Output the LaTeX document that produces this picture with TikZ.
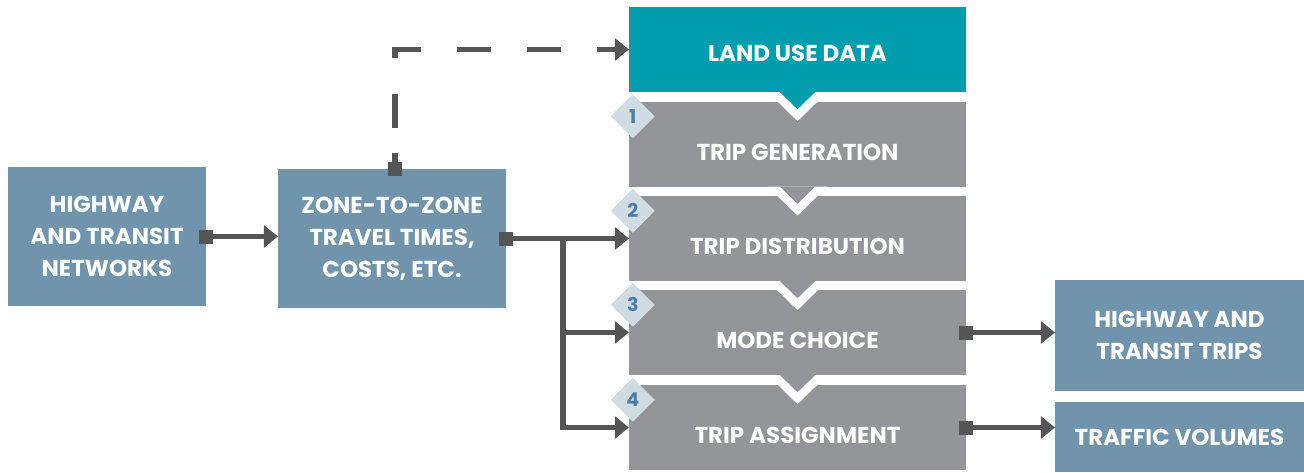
\documentclass[tikz,border=0pt]{standalone}
\usepackage{fontspec}
\setmainfont{Poppins}
\usetikzlibrary{arrows.meta,shapes.geometric}

\definecolor{landteal}{HTML}{009DAE}
\definecolor{stepgray}{HTML}{939598}
\definecolor{steel}{HTML}{7094AC}
\definecolor{flowgray}{HTML}{555555}
\definecolor{numbg}{HTML}{D0DBE2}
\definecolor{numblue}{HTML}{4B7DA7}

\tikzset{
  box/.style={rectangle, inner sep=0pt, text=white, align=center,
    font=\bfseries\fontsize{23}{32}\selectfont},
  databox/.style={box, fill=steel},
  stepbox/.style={box, fill=stepgray, minimum width=337pt, minimum height=85pt,
    text height=32pt, text depth=0pt},
  stepnum/.style={diamond, fill=numbg, inner sep=0pt, minimum size=44pt,
    text=numblue, font=\bfseries\fontsize{19}{19}\selectfont},
  branch/.style={draw=flowgray, line width=5.5pt,
    arrows={-Triangle[length=14pt,width=23pt,line width=0pt]}},
  flow/.style={branch,
    arrows={Square[length=14pt,width=14pt,line width=0pt]-Triangle[length=14pt,width=23pt,line width=0pt]}},
}

\begin{document}
\begin{tikzpicture}[x=1pt,y=-1pt]
  \useasboundingbox (0,0) rectangle (1304,472);

  % inputs and outputs
  \node[databox, minimum width=198pt, minimum height=139pt] (hwy) at (107,236.5) {HIGHWAY\\AND TRANSIT\\NETWORKS};
  \node[databox, minimum width=228pt, minimum height=139pt] (zone) at (392,238.5) {ZONE-TO-ZONE\\TRAVEL TIMES,\\COSTS, ETC.};
  \node[databox, minimum width=249pt, minimum height=111pt] (trips) at (1179.5,335.5) {HIGHWAY AND\\TRANSIT TRIPS};
  \node[databox, minimum width=249pt, minimum height=70pt] (volumes) at (1179.5,437) {TRAFFIC VOLUMES};

  % model steps
  \node[box, fill=landteal, minimum width=337pt, minimum height=85pt, text height=24pt, text depth=0pt] (land) at (797.5,49.5) {LAND USE DATA};
  \node[stepbox] (gen) at (797.5,144) {TRIP GENERATION};
  \node[stepbox] (dist) at (797.5,238.5) {TRIP DISTRIBUTION};
  \node[stepbox] (mode) at (797.5,332.5) {MODE CHOICE};
  \node[stepbox] (assign) at (797.5,427.5) {TRIP ASSIGNMENT};

  \foreach \s/\c in {land/landteal, gen/stepgray, dist/stepgray, mode/stepgray}{
    \fill[white] ([xshift=-29.5pt]\s.south) -- ([xshift=29.5pt]\s.south) -- ([yshift=-29pt]\s.south) -- cycle;
    \fill[\c] ([xshift=-17.5pt]\s.south) -- ([xshift=17.5pt]\s.south) -- ([yshift=-17pt]\s.south) -- cycle;
  }
  \foreach \n/\s in {1/gen, 2/dist, 3/mode, 4/assign}
    \node[stepnum] (num\n) at ([xshift=4pt,yshift=-15pt]\s.north west) {\n};

  % connectors
  \coordinate (split) at ([xshift=57pt]zone.east);
  \draw[flow] ([xshift=-7pt]hwy.east) -- (hwy.east -| zone.west);
  \draw[flow] ([xshift=-7pt]zone.east) -- (zone.east -| dist.west);
  \draw[branch] (split) |- (mode.west);
  \draw[branch] (split) |- (assign.west);
  \draw[flow] ([xshift=-7pt]mode.east) -- (mode.east -| trips.west);
  \draw[flow] ([xshift=-7pt]assign.east) -- (assign.east -| volumes.west);
  \draw[flow, dash pattern=on 9pt off 25pt on 34pt off 36pt on 34pt off 36pt on 34pt off 36pt on 34pt off 36pt on 34pt off 36pt] ([xshift=3pt,yshift=-7pt]zone.north) |- (land.west);
\end{tikzpicture}
\end{document}
